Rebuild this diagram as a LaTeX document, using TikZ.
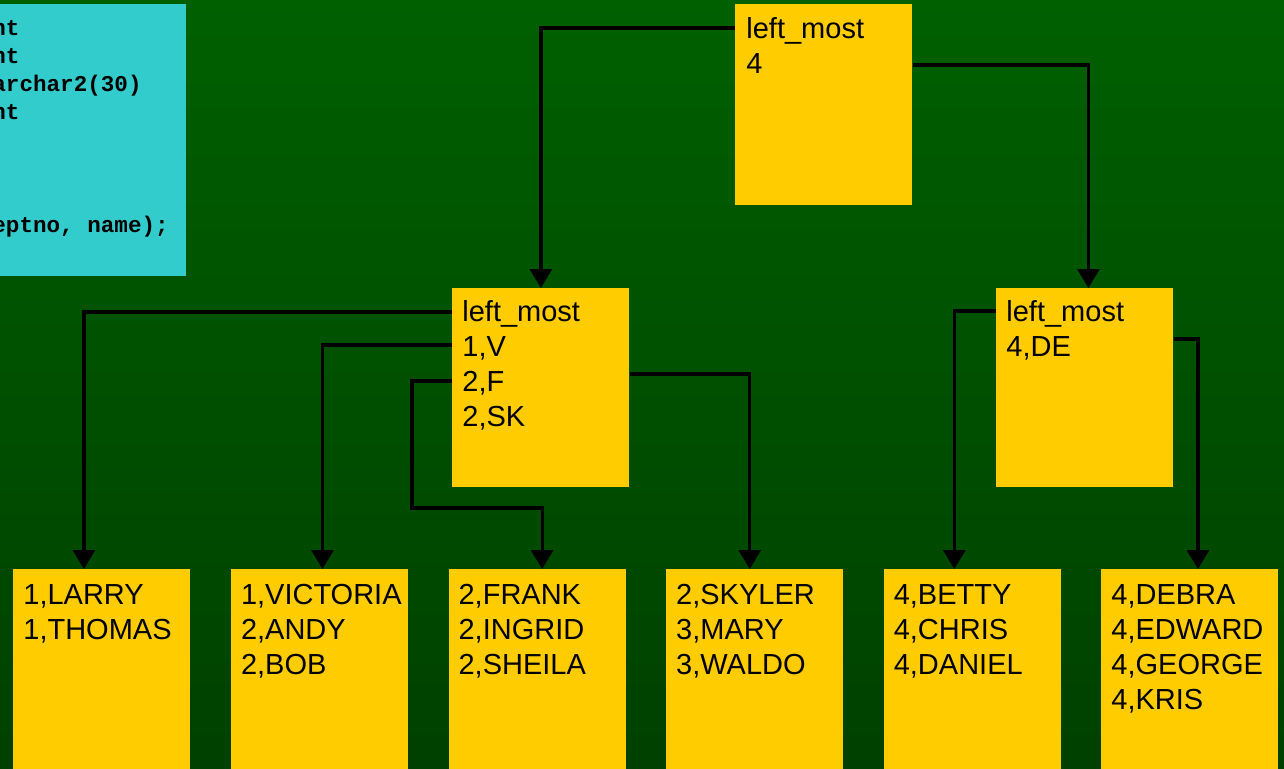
\documentclass[tikz,border=0pt]{standalone}
\usepackage{fontspec}
\setmainfont{Liberation Sans}
\setmonofont{Liberation Mono}
\usepackage{xcolor}
\usepackage{tikz}
\usetikzlibrary{arrows.meta, positioning, calc}

\definecolor{pagefill}{HTML}{FFCC00}
\definecolor{ddlfill}{HTML}{33CCCC}
\definecolor{bgtop}{HTML}{006000}
\definecolor{bgmid}{HTML}{005800}
\definecolor{bgbot}{HTML}{004000}

\begin{document}
\begin{tikzpicture}[
    x=0.5pt, y=-0.5pt,
    node distance=19.9pt,
    block/.style={rectangle, fill=pagefill, inner sep=0pt, minimum width=88.5pt, minimum height=#1, anchor=north west},
    keys/.style={anchor=north west, inner sep=0pt, align=left, text=black, font=\fontsize{14.5}{17.5}\selectfont},
    arrow/.style={-{Triangle[width=11pt, length=9.5pt]}, line width=1.6pt, black},
]
\useasboundingbox (0pt,0pt) rectangle (642pt,-384pt);
\shade[top color=bgtop, middle color=bgmid, bottom color=bgbot] (0pt,0pt) rectangle (642pt,-384pt);

% DDL panel (cut off at the left edge)
\node[rectangle, fill=ddlfill, inner sep=0pt, minimum width=143pt, minimum height=136pt, anchor=north east] (ddl) at (186,4) {};
\node[anchor=north west, inner sep=0pt, align=left, font=\fontsize{11.3}{14.05}\ttfamily\bfseries] (ddltext) at (-8,20)
  {nt\\nt\\archar2(30)\\nt\\[42.15pt]eptno, name);};

% Root
\node[block=100.5pt] (root) at (735,4) {};
\node[keys] (rootkeys) at ([xshift=5.5pt, yshift=-6.5pt]root.north west) {left\_most\\4};

% Branches
\node[block=99.5pt] (midA) at (452,288) {};
\node[keys] (midAkeys) at ([xshift=5pt, yshift=-6pt]midA.north west) {left\_most\\1,V\\2,F\\2,SK};
\node[block=99.5pt] (midB) at (996,288) {};
\node[keys] (midBkeys) at ([xshift=5pt, yshift=-6pt]midB.north west) {left\_most\\4,DE};

% Leaves
\node[block=110pt] (leafA) at (13,569) {};
\node[block=110pt, right=of leafA] (leafB) {};
\node[block=110pt, right=of leafB] (leafC) {};
\node[block=110pt, right=of leafC] (leafD) {};
\node[block=110pt, right=of leafD] (leafE) {};
\node[block=110pt, right=of leafE] (leafF) {};
\node[keys] (leafAkeys) at ([xshift=5pt, yshift=-7.5pt]leafA.north west) {1,LARRY\\1,THOMAS};
\node[keys] (leafBkeys) at ([xshift=5pt, yshift=-7.5pt]leafB.north west) {1,VICTORIA\\2,ANDY\\2,BOB};
\node[keys] (leafCkeys) at ([xshift=5pt, yshift=-7.5pt]leafC.north west) {2,FRANK\\2,INGRID\\2,SHEILA};
\node[keys] (leafDkeys) at ([xshift=5pt, yshift=-7.5pt]leafD.north west) {2,SKYLER\\3,MARY\\3,WALDO};
\node[keys] (leafEkeys) at ([xshift=5pt, yshift=-7.5pt]leafE.north west) {4,BETTY\\4,CHRIS\\4,DANIEL};
\node[keys] (leafFkeys) at ([xshift=5pt, yshift=-7.5pt]leafF.north west) {4,DEBRA\\4,EDWARD\\4,GEORGE\\4,KRIS};

\coordinate (bend) at ([xshift=2.5pt, yshift=30.5pt]leafC.north);

\draw[arrow] ([yshift=-12pt]root.north west) -| (midA.north);
\draw[arrow] ([yshift=-30.5pt]root.north east) -| ([xshift=1.75pt]midB.north);
\draw[arrow] ([yshift=-12pt]midA.north west) -| ([xshift=-9pt]leafA.north);
\draw[arrow] ([yshift=-28.5pt]midA.north west) -| ([xshift=1.5pt]leafB.north);
\draw[arrow] ([yshift=-46.5pt]midA.north west) -- ++(-20pt,0) |- (bend) -- ([xshift=2.5pt]leafC.north);
\draw[arrow] ([yshift=-43pt]midA.north east) -| ([xshift=-2.5pt]leafD.north);
\draw[arrow] ([yshift=-11.5pt]midB.north west) -| ([xshift=-9pt]leafE.north);
\draw[arrow] ([yshift=-25.5pt]midB.north east) -| ([xshift=4pt]leafF.north);

\end{tikzpicture}
\end{document}
